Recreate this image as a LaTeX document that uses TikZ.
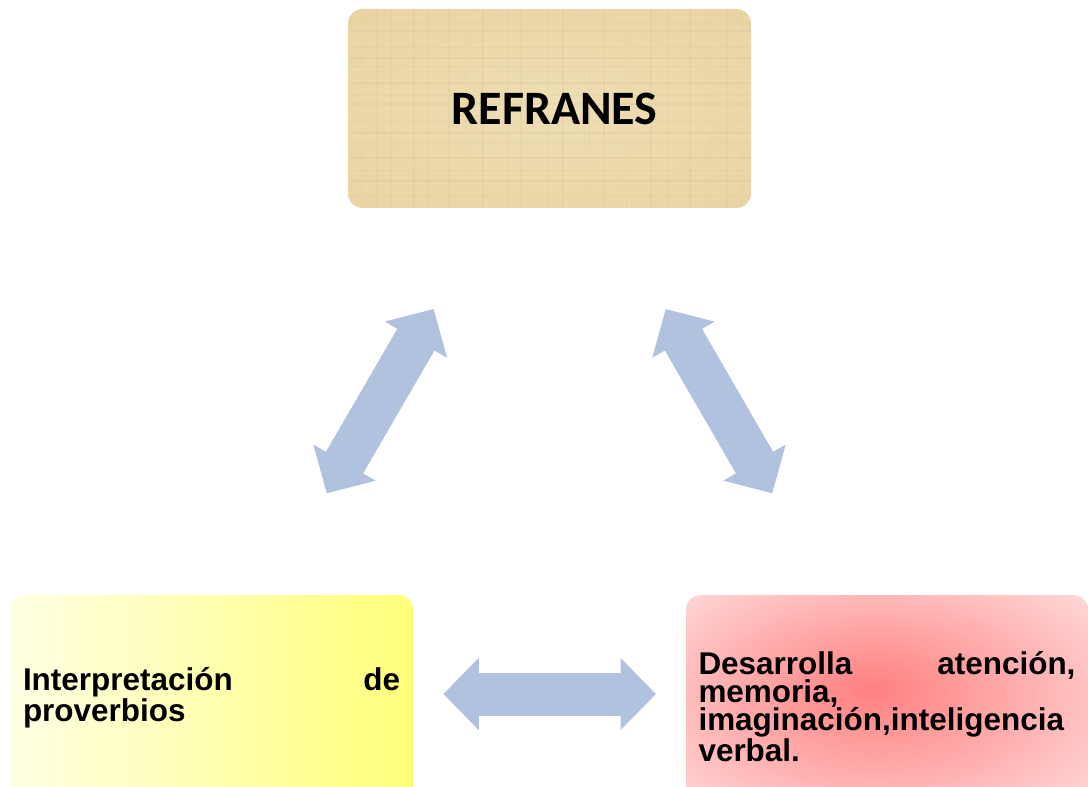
\documentclass[tikz,border=0pt]{standalone}
\usepackage{fontspec}
\setmainfont{Liberation Sans}
\newfontfamily\calibfont{Carlito}
\usetikzlibrary{arrows.meta,shadings}
\definecolor{arrowblue}{RGB}{176,194,221}
\definecolor{papyrusin}{RGB}{238,222,180}
\definecolor{papyrusout}{RGB}{228,202,146}
\definecolor{papyrusline}{RGB}{200,170,110}
\definecolor{yellowL}{RGB}{255,255,228}
\definecolor{yellowR}{RGB}{255,255,122}
\definecolor{redin}{RGB}{255,128,128}
\definecolor{redout}{RGB}{255,214,214}
\pgfdeclareradialshading{redglow}{\pgfpoint{-2bp}{4bp}}{color(0bp)=(redin); color(34bp)=(redout); color(50bp)=(redout)}
\pgfdeclareradialshading{papyrus}{\pgfpoint{0bp}{0bp}}{color(0bp)=(papyrusin); color(30bp)=(papyrusin!60!papyrusout); color(50bp)=(papyrusout)}
\tikzset{
  boxbase/.style={rounded corners=11pt, inner ysep=0pt},
  bodytext/.style={font=\fontsize{23.6}{21.3}\selectfont\bfseries, text width=282.75pt, align=left},
  fibre/.style={draw=papyrusline, opacity=0.12, line width=0.7pt},
  dblarrow/.style={draw=arrowblue, line width=32.25pt,
    {Triangle[length=26.6pt,width=52.5pt]}-{Triangle[length=26.6pt,width=52.5pt]}}
}
\begin{document}
\begin{tikzpicture}[x=0.75pt,y=-0.75pt]
\useasboundingbox (0,0) rectangle (1088,787);
\clip (0,0) rectangle (1088,787);
% top box with papyrus texture
\node[boxbase, shading=papyrus, minimum width=302.25pt, minimum height=149.25pt, inner xsep=0pt] (top) at (549.5,108.5) {};
\begin{scope}
  \clip[rounded corners=11pt] (top.south west) rectangle (top.north east);
  \foreach \yy/\ww in {22/0.5,31/1.2,47/0.6,58/1.5,66/0.5,83/1.0,95/0.6,104/1.4,121/0.5,133/1.1,142/0.6,158/1.3,170/0.5,181/1.0,196/0.7}
    \draw[fibre, line width=\ww pt] (348,\yy) -- (751,\yy);
  \foreach \xx/\ww in {362/0.6,377/1.2,391/0.5,414/1.0,428/0.6,449/1.4,466/0.5,483/0.9,507/0.6,521/1.3,548/0.5,563/1.0,589/0.6,604/1.2,626/0.5,651/1.1,668/0.6,690/1.3,709/0.5,727/1.0,741/0.6}
    \draw[fibre, line width=\ww pt] (\xx,9) -- (\xx,208);
\end{scope}
\node[inner sep=0pt, font=\calibfont\fontsize{36}{40}\selectfont\bfseries] (toptext) at ([xshift=3.75pt]top.center) {REFRANES};
% bottom boxes
\node[boxbase, bodytext, left color=yellowL, right color=yellowR, shading angle=90, minimum width=302.25pt, minimum height=153.75pt, inner xsep=9.75pt] (left) at (211.5,697.5)
  {Interpretación \hfill de\\proverbios};
\node[boxbase, bodytext, shading=redglow, minimum width=301.5pt, minimum height=167.25pt, inner xsep=9.375pt] (right) at (887,706.5)
  {Desarrolla \hfill atención,\\memoria,\\imaginación,inteligencia\\verbal.};
% arrows
\coordinate (l1) at (326.7,493.3);
\coordinate (l2) at (433.7,309);
\coordinate (r1) at (665.7,309);
\coordinate (r2) at (772.3,493.3);
\coordinate (h1) at (443.3,694);
\coordinate (h2) at (656,694);
\draw[dblarrow] (l1) -- (l2);
\draw[dblarrow] (r1) -- (r2);
\draw[dblarrow] (h1) -- (h2);
\end{tikzpicture}
\end{document}
